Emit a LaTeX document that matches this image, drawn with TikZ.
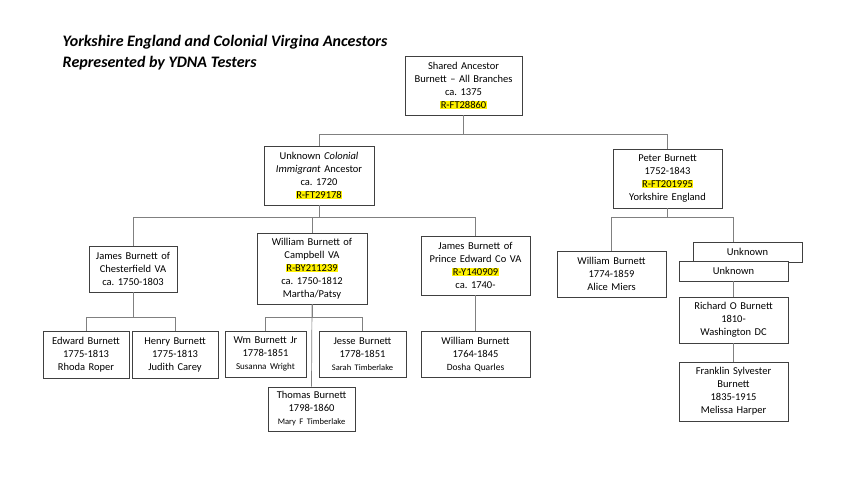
\documentclass[tikz,border=0pt]{standalone}
\usepackage{xcolor}
\usepackage{fontspec}
\setmainfont{Carlito}
\usepackage{tikz}
\usetikzlibrary{calc}
\usetikzlibrary{positioning}

\newcommand{\hlt}[1]{{\setlength{\fboxsep}{0.5pt}\colorbox{yellow}{#1}}}
\frenchspacing

\begin{document}
\begin{tikzpicture}[x=1pt,y=-1pt,
                    thick,person/.style={draw=black!75,line width=0.7pt,fill=white,align=center,
                      inner sep=0pt,font=\fontsize{10.5}{13}\selectfont},
                    link/.style={draw=black!50,line width=0.7pt}]

  \useasboundingbox (0,0) rectangle (864,486);

  \node[anchor=base west,align=left,font=\fontsize{16}{20.5}\selectfont\bfseries\itshape] (title) at (59,67.5)
    {Yorkshire England and Colonial Virgina Ancestors\\Represented by YDNA Testers};

  \node[person,text width=117,minimum height=59] (shared) at (463.5,85.5)
    {Shared Ancestor\\Burnett -- All Branches\\ca. 1375\\\hlt{R-FT28860}};

  \node[person,text width=110,minimum height=59] (immig) at (319,175.5)
    {Unknown \textit{Colonial}\\\textit{Immigrant} Ancestor\\ca. 1720\\\hlt{R-FT29178}};
  \node[person,text width=109,minimum height=59] (peter) at (667.5,178.5)
    {Peter Burnett\\1752-1843\\\hlt{R-FT201995}\\Yorkshire England};

  \node[person,text width=88,minimum height=46] (chest) at (133,269)
    {James Burnett of\\Chesterfield VA\\ca. 1750-1803};
  \node[person,text width=110,minimum height=71] (campbell) at (312,268.5)
    {William Burnett of\\Campbell VA\\\hlt{R-BY211239}\\ca. 1750-1812\\Martha/Patsy};
  \node[person,text width=109,minimum height=59] (prince) at (475.5,265.5)
    {James Burnett of\\Prince Edward Co VA\\\hlt{R-Y140909}\\ca. 1740-};
  \node[person,text width=109,minimum height=46] (william1) at (611.5,274)
    {William Burnett\\1774-1859\\Alice Miers};
  \node[person,text width=109,minimum height=20] (unknownA) at (747.5,252) {Unknown};
  \node[person,text width=109,minimum height=20] (unknownB) at (733.5,271) {Unknown};
  \node[person,text width=109,minimum height=46] (richard) at (733.5,320)
    {Richard O Burnett\\1810-\\Washington DC};
  \node[person,text width=109,minimum height=59] (franklin) at (733.5,391.5)
    {Franklin Sylvester\\Burnett\\1835-1915\\Melissa Harper};

  \node[person,text width=86,minimum height=47] (edward) at (86,354.5)
    {Edward Burnett\\1775-1813\\Rhoda Roper};
  \node[person,text width=86,minimum height=47] (henry) at (175,354.5)
    {Henry Burnett\\1775-1813\\Judith Carey};
  \node[person,text width=81,minimum height=46] (wmjr) at (265.5,354)
    {Wm Burnett Jr\\1778-1851\\{\fontsize{9}{10}\selectfont Susanna Wright}};
  \node[person,text width=87,minimum height=46] (jesse) at (362.5,354)
    {Jesse Burnett\\1778-1851\\{\fontsize{8.5}{10}\selectfont Sarah Timberlake}};
  \node[person,text width=87,minimum height=44] (thomas) at (311.5,409)
    {Thomas Burnett\\1798-1860\\{\fontsize{8.5}{10}\selectfont Mary F Timberlake}};
  \node[person,text width=109,minimum height=46] (william2) at (475.5,354)
    {William Burnett\\1764-1845\\{\fontsize{9.5}{10}\selectfont Dosha Quarles}};

  % family links
  \draw[link] (shared.south) -- ++(0,19) -| (immig.north);
  \draw[link] (shared.south) -- ++(0,19) -| (peter.north);

  \draw[link] (immig.south) -- ++(0,12.5) -| (chest.north);
  \draw[link] (immig.south) -- ++(0,12.5) -| (campbell.north);
  \draw[link] (immig.south) -- ++(0,12.5) -| (prince.north);

  \draw[link] (peter.south) -- ++(0,9.5) -| (william1.north);
  \draw[link] (peter.south) -- ++(0,9.5) -| (unknownA.north -| unknownB.north);

  \draw[link] (chest.south) -- ++(0,25) -| (edward.north);
  \draw[link] (chest.south) -- ++(0,25) -| (henry.north);

  \draw[link] (campbell.south) -- ++(0,13) -| (wmjr.north);
  \draw[link] (campbell.south) -- ++(0,13) -| (jesse.north);
  \draw[link] (campbell.south) -- (thomas.north);

  \path[link] (prince) edge (william2)
              (unknownB) edge (richard)
              (richard) edge (franklin);

\end{tikzpicture}
\end{document}
